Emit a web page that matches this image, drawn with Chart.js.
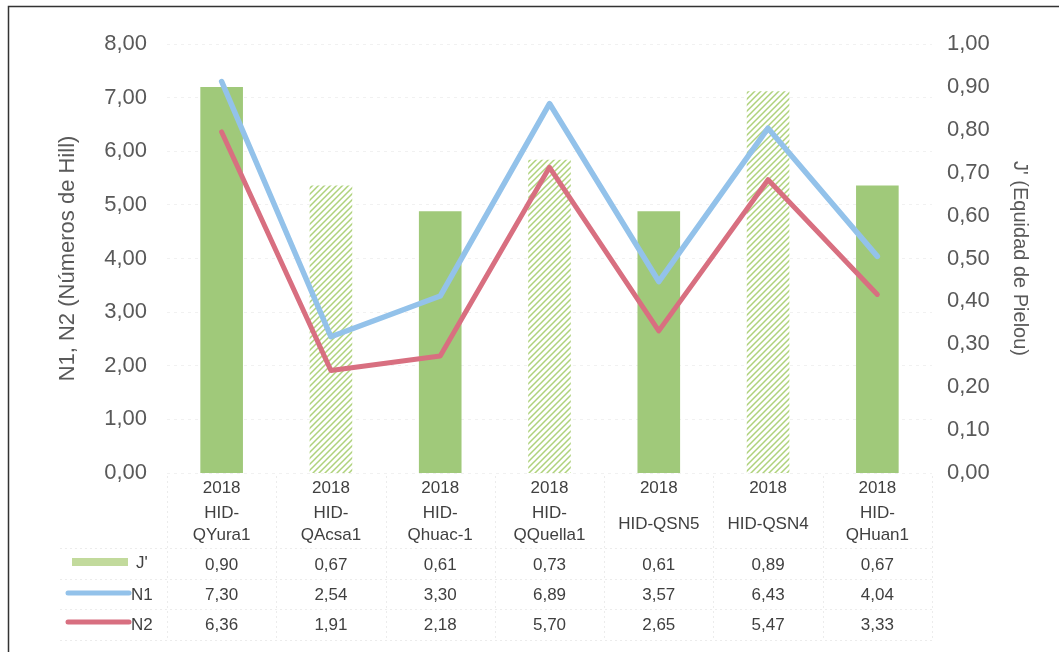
<!DOCTYPE html>
<html>
<head>
<meta charset="utf-8">
<script src="https://cdn.jsdelivr.net/npm/chart.js@4"></script>
<style>
  html, body { margin: 0; padding: 0; background: #fff; }
  #wrap { width: 1059px; height: 652px; position: relative; }
</style>
</head>
<body>
<div id="wrap"><canvas id="chart"></canvas></div>
<script>
'use strict';

// ── Data ──────────────────────────────────────────────────────────────────────
const years = ['2018', '2018', '2018', '2018', '2018', '2018', '2018'];
const sites = [
  ['HID-', 'QYura1'], ['HID-', 'QAcsa1'], ['HID-', 'Qhuac-1'], ['HID-', 'QQuella1'],
  ['HID-QSN5'], ['HID-QSN4'], ['HID-', 'QHuan1'],
];
const jPielou = [0.90, 0.67, 0.61, 0.73, 0.61, 0.89, 0.67];
const n1Hill  = [7.30, 2.54, 3.30, 6.89, 3.57, 6.43, 4.04];
const n2Hill  = [6.36, 1.91, 2.18, 5.70, 2.65, 5.47, 3.33];

// ── Styles ────────────────────────────────────────────────────────────────────
const FONT = "'Liberation Sans', Arial, sans-serif";
const GREEN = '#a0c97a';
const BLUE = '#93c2ea';
const RED = '#d86f80';
const fmt = (v) => v.toFixed(2).replace('.', ',');

function hatch() {
  const c = document.createElement('canvas');
  c.width = 6; c.height = 6;
  const g = c.getContext('2d');
  g.fillStyle = '#fff';
  g.fillRect(0, 0, 6, 6);
  g.strokeStyle = '#afd27c';
  g.lineWidth = 1.5;
  g.beginPath();
  g.moveTo(0, 6); g.lineTo(6, 0);
  g.moveTo(-1, 1); g.lineTo(1, -1);
  g.moveTo(5, 7); g.lineTo(7, 5);
  g.stroke();
  return g.createPattern(c, 'repeat');
}
const pat = hatch();
const barColors = jPielou.map((_, i) => (i % 2 ? pat : GREEN));

// ── Table + frame plugin ──────────────────────────────────────────────────────
const tablePlugin = {
  id: 'dataTable',
  afterDraw(chart) {
    const { ctx } = chart;
    const x = chart.scales.x;
    const area = chart.chartArea;
    const step = (area.right - area.left) / years.length;
    ctx.save();

    // faint table grid
    ctx.strokeStyle = '#ececec';
    ctx.lineWidth = 1;
    ctx.setLineDash([2, 3]);
    ctx.beginPath();
    [548, 579, 609, 640].forEach(y => { ctx.moveTo(60, y + 0.5); ctx.lineTo(area.right, y + 0.5); });
    for (let i = 0; i <= years.length; i++) {
      const gx = Math.round(area.left + i * step) + 0.5;
      ctx.moveTo(gx, 476); ctx.lineTo(gx, 640);
    }
    ctx.stroke();
    ctx.setLineDash([]);

    // cell texts
    ctx.fillStyle = '#404040';
    ctx.font = '17px ' + FONT;
    ctx.textAlign = 'center';
    ctx.textBaseline = 'middle';
    years.forEach((yr, i) => {
      const cx = x.getPixelForValue(i);
      ctx.fillText(yr, cx, 488);
      const s = sites[i];
      if (s.length === 1) ctx.fillText(s[0], cx, 524);
      else { ctx.fillText(s[0], cx, 513); ctx.fillText(s[1], cx, 535); }
      ctx.fillText(fmt(jPielou[i]), cx, 565);
      ctx.fillText(fmt(n1Hill[i]), cx, 595);
      ctx.fillText(fmt(n2Hill[i]), cx, 625);
    });

    // legend keys
    ctx.fillStyle = '#c2da9c';
    ctx.fillRect(72, 558, 56, 8);
    ctx.lineCap = 'round';
    ctx.lineWidth = 5;
    ctx.strokeStyle = BLUE;
    ctx.beginPath(); ctx.moveTo(68, 593); ctx.lineTo(129, 593); ctx.stroke();
    ctx.strokeStyle = RED;
    ctx.beginPath(); ctx.moveTo(68, 622); ctx.lineTo(129, 622); ctx.stroke();
    ctx.fillStyle = '#404040';
    ctx.textAlign = 'left';
    ctx.fillText("J'", 136, 563);
    ctx.fillText('N1', 131, 595);
    ctx.fillText('N2', 131, 625);

    // frame
    ctx.strokeStyle = '#333';
    ctx.lineWidth = 1.5;
    ctx.lineCap = 'butt';
    ctx.beginPath();
    ctx.moveTo(8.5, 660); ctx.lineTo(8.5, 6.5); ctx.lineTo(1059, 6.5);
    ctx.stroke();
    ctx.restore();
  }
};

// ── Chart ─────────────────────────────────────────────────────────────────────
new Chart(document.getElementById('chart'), {
  type: 'bar',
  data: {
    labels: years,
    datasets: [
      {
        type: 'line', label: 'N1', data: n1Hill, yAxisID: 'y', order: 1,
        borderColor: BLUE, borderWidth: 5.5, pointRadius: 0,
        borderCapStyle: 'round', borderJoinStyle: 'round', tension: 0,
      },
      {
        type: 'line', label: 'N2', data: n2Hill, yAxisID: 'y', order: 2,
        borderColor: RED, borderWidth: 5, pointRadius: 0,
        borderCapStyle: 'round', borderJoinStyle: 'round', tension: 0,
      },
      {
        type: 'bar', label: "J'", data: jPielou, yAxisID: 'y1', order: 3,
        backgroundColor: barColors, borderWidth: 0,
        barPercentage: 0.39, categoryPercentage: 1,
      },
    ]
  },
  options: {
    responsive: true,
    maintainAspectRatio: false,
    animation: false,
    layout: { padding: { top: 44, bottom: 179, left: 0, right: 0 } },
    plugins: { legend: { display: false }, tooltip: { enabled: false } },
    scales: {
      x: { display: false },
      y: {
        position: 'left', min: 0, max: 8,
        afterFit: (s) => { s.width = 167; },
        ticks: {
          stepSize: 1, padding: 20, color: '#595959',
          font: { family: FONT, size: 22 },
          callback: (v) => fmt(v),
        },
        grid: { color: '#f1f1f1', drawTicks: false },
        border: { display: false, dash: [3, 4] },
        title: {
          display: true, text: 'N1, N2 (Números de Hill)', color: '#595959',
          font: { family: FONT, size: 22 }, padding: { top: 55, bottom: 0 },
        },
      },
      y1: {
        position: 'right', min: 0, max: 1,
        afterFit: (s) => { s.width = 127; },
        ticks: {
          stepSize: 0.1, padding: 15, color: '#595959',
          font: { family: FONT, size: 22 },
          callback: (v) => fmt(v),
        },
        grid: { display: false, drawTicks: false },
        border: { display: false },
        title: {
          display: true, text: "J' (Equidad de Pielou)", color: '#595959',
          font: { family: FONT, size: 20 }, padding: { top: 27, bottom: 0 },
        },
      },
    }
  },
  plugins: [tablePlugin]
});
</script>
</body>
</html>
